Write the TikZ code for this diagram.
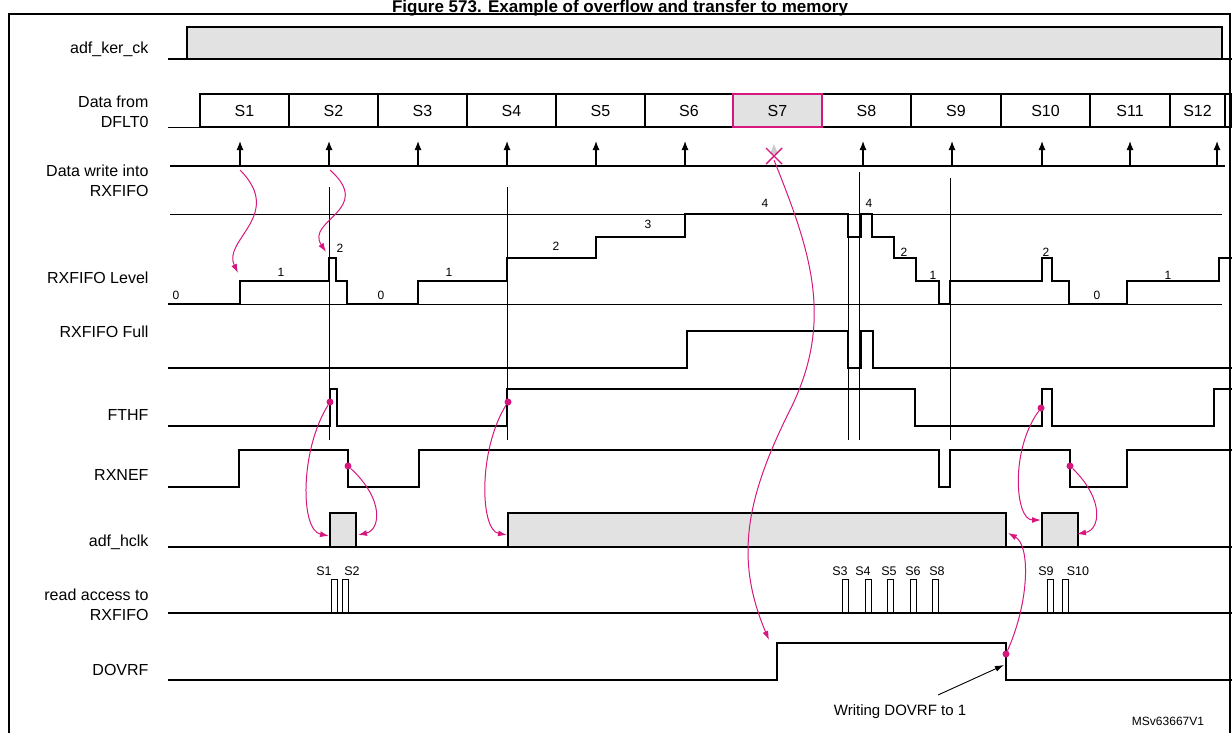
\documentclass[tikz,border=0pt]{standalone}
\usepackage{fontspec}
\setmainfont{Liberation Sans}
\usetikzlibrary{arrows.meta}
\definecolor{stmag}{RGB}{214,23,125}
\definecolor{stgray}{RGB}{226,226,226}
\tikzset{
  sig/.style = {line width=2.6pt, line join=miter},
  thin/.style = {line width=0.7pt},
  signame/.style = {anchor=east, align=right, font=\fontsize{16}{20}\selectfont},
  lvl/.style = {font=\fontsize{12}{14}\selectfont, inner sep=1pt},
  slot/.style = {font=\fontsize{16}{18}\selectfont},
  cause/.style = {stmag, line width=1pt, -{Latex[length=9pt,width=6pt]}},
  mdot/.style = {circle, fill=stmag, minimum size=#1, inner sep=0pt},
  mdot/.default = 7pt
}

\begin{document}
\begin{tikzpicture}[x=1pt, y=-1pt]
	\def \lo{59}
	\useasboundingbox (0,0) rectangle (1232,732);
	
	% Title and frame
	\node[anchor=base, font=\bfseries\fontsize{17}{20}\selectfont] (title) at (620,12) {Figure 573. Example of overflow and transfer to memory};
	\draw[line width=1.6pt] (9,745) -- (9,14) -- (1230,14) -- (1230,745);
	
	% Signal names
	\node[signame] (kerck) at (152,49) {adf\_ker\_ck};
	\node[signame] (dflt) at (152,112) {Data from\\DFLT0};
	\node[signame] (write) at (152,181) {Data write into\\RXFIFO};
	\node[signame] (level) at (152,278) {RXFIFO Level};
	\node[signame] (full) at (152,332) {RXFIFO Full};
	\node[signame] (fthf) at (152,415) {FTHF};
	\node[signame] (rxnef) at (152,475) {RXNEF};
	\node[signame] (hclk) at (152,542) {adf\_hclk};
	\node[signame] (read) at (152,605) {read access to\\RXFIFO};
	\node[signame] (dovrf) at (152,670) {DOVRF};
	
	% adf_ker_ck
	\fill[stgray] (187,27) rectangle (1222,\lo);
	\draw[sig] (168,\lo) -- (187,\lo) -- (187,27) -- (1222,27) -- (1222,\lo);
	\draw[sig] (187,\lo) -- (1232,\lo);
	
	% Data from DFLT0
	\draw[thin] (168,127) -- (200,127);
	\fill[stgray] (733,94) rectangle (822,127);
	\draw[sig] (200,94) rectangle (1232,127);
	\foreach \x in {289,378,467,556,645,733,822,911,1001,1090,1170,1225}
		\draw[sig] (\x,94) -- (\x,127);
	\draw[stmag, line width=2.4pt] (733,94) rectangle (822,127);
	\foreach \a/\b/\s in {200/289/S1,289/378/S2,378/467/S3,467/556/S4,556/645/S5,645/733/S6,733/822/S7,822/911/S8,911/1001/S9,1001/1090/S10,1090/1170/S11,1170/1225/S12}
		\node[slot] (s\s) at ({(\a+\b)/2},111) {\s};
	
	% Data write into RXFIFO
	\draw[thin, line width=1.2pt] (170,166) -- (1225,166);
	\foreach \x in {240,329,418,507,596,685,863,952,1042,1130,1217}
		\draw[line width=1.2pt, -{Latex[length=9pt,width=7pt]}] (\x,166) -- (\x,141);
	\fill[gray!40] (770,154) -- (778,154) -- (774,144) -- cycle;
	\draw[stmag, line width=1.4pt] (766,148) -- (782,164) (766,164) -- (782,148);
	\coordinate (lost) at (774,160);
	
	% RXFIFO Level
	\draw[thin] (170,214) -- (1222,214);
	\draw[thin] (170,304) -- (1222,304);
	\foreach \x/\t in {329/187,507/187,859/172,848/220,950/178}
		\draw[thin] (\x,\t) -- (\x,440);
	\draw[sig] (168,304) -- (240,304) -- (240,281) -- (329,281) -- (329,258) -- (336,258) -- (336,281)
		-- (347,281) -- (347,304) -- (418,304) -- (418,281) -- (507,281) -- (507,258) -- (596,258)
		-- (596,237) -- (685,237) -- (685,214) -- (848,214) -- (848,237) -- (861,237) -- (861,214)
		-- (872,214) -- (872,237) -- (894,237) -- (894,258) -- (916,258) -- (916,281) -- (939,281)
		-- (939,304) -- (950,304) -- (950,281) -- (1042,281) -- (1042,258) -- (1052,258) -- (1052,281)
		-- (1069,281) -- (1069,304) -- (1127,304) -- (1127,281) -- (1219,281) -- (1219,258) -- (1232,258);
	\foreach \x/\y/\v in {176/295/0,281/272/1,340/248/2,381/295/0,449/272/1,556/246/2,648/224/3,765/203/4,869/203/4,904/252/2,933/275/1,1046/252/2,1097/295/0,1168/275/1}
		\node[lvl] at (\x,\y) {\v};
	
	% RXFIFO Full
	\draw[sig] (168,368) -- (687,368) -- (687,331) -- (848,331) -- (848,368) -- (861,368) -- (861,331)
		-- (873,331) -- (873,368) -- (1232,368);
	
	% FTHF
	\draw[sig] (168,426) -- (330,426) -- (330,389) -- (337,389) -- (337,426) -- (507,426) -- (507,389)
		-- (915,389) -- (915,426) -- (1042,426) -- (1042,389) -- (1052,389) -- (1052,426) -- (1214,426)
		-- (1214,389) -- (1232,389);
	
	% RXNEF
	\draw[sig] (168,487) -- (239,487) -- (239,450) -- (348,450) -- (348,487) -- (419,487) -- (419,450)
		-- (939,450) -- (939,487) -- (950,487) -- (950,450) -- (1070,450) -- (1070,487) -- (1127,487)
		-- (1127,450) -- (1232,450);
	
	% adf_hclk
	\foreach \a/\b in {330/356,508/1006,1042/1078}{
		\fill[stgray] (\a,513) rectangle (\b,547);
		\draw[sig] (\a,547) -- (\a,513) -- (\b,513) -- (\b,547);
	}
	\draw[sig] (168,547) -- (1232,547);
	
	% read access to RXFIFO
	\draw[thin, line width=1.2pt] (168,613) -- (1232,613);
	\foreach \x in {331,342,842,865,887,910,932,1047,1062}
		\draw[line width=1pt] (\x,613) -- (\x,579) -- (\x+6,579) -- (\x+6,613);
	\foreach \x/\s in {324/S1,352/S2,840/S3,863/S4,889/S5,913/S6,937/S8,1046/S9,1078/S10}
		\node[lvl, font=\fontsize{12.5}{14}\selectfont] at (\x,571) {\s};
	
	% DOVRF
	\draw[sig] (168,680) -- (777,680) -- (777,643) -- (1006,643) -- (1006,680) -- (1232,680);
	\node[font=\fontsize{15}{18}\selectfont] (wr) at (900,712) {Writing DOVRF to 1};
	\node[font=\fontsize{12}{14}\selectfont] (ver) at (1168,721) {MSv63667V1};
	\draw[line width=0.9pt, -{Latex[length=9pt,width=6pt]}] (938,695) -- (1004,665);
	
	% Cause and effect
	\node[mdot] (f1) at (330,402) {};
	\node[mdot] (f2) at (508,402) {};
	\node[mdot] (f3) at (1041,408) {};
	\node[mdot] (n1) at (348,466) {};
	\node[mdot] (n2) at (1070,466) {};
	\node[mdot] (d1) at (1006,654) {};
	\draw[cause] (240,170) .. controls (285,215) and (222,240) .. (238,273);
	\draw[cause] (330,170) .. controls (375,210) and (305,220) .. (326,252);
	\draw[cause] (lost) .. controls (810,250) and (835,320) .. (790,410)
		.. controls (745,500) and (735,560) .. (769,640);
	\draw[cause] (f1) .. controls (300,450) and (300,530) .. (329,536);
	\draw[cause] (n1) .. controls (385,500) and (380,530) .. (358,535);
	\draw[cause] (f2) .. controls (478,450) and (480,530) .. (507,535);
	\draw[cause] (f3) .. controls (1010,450) and (1015,520) .. (1041,520);
	\draw[cause] (n2) .. controls (1105,500) and (1100,530) .. (1077,534);
	\draw[cause] (d1) .. controls (1030,600) and (1030,545) .. (1008,533);
\end{tikzpicture}
\end{document}
